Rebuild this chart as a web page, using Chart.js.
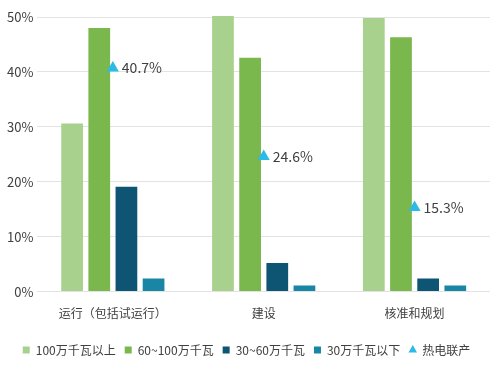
<!DOCTYPE html>
<html><head><meta charset="utf-8">
<script src="https://cdn.jsdelivr.net/npm/chart.js@4/dist/chart.umd.min.js"></script>
<style>html,body{margin:0;padding:0;background:#fff}#wrap{width:500px;height:380px}</style>
</head><body><div id="wrap"><canvas id="c"></canvas></div>
<script>
const categories = ['运行（包括试运行）', '建设', '核准和规划'];
const above100 = [30.6, 50.2, 49.8];
const from60to100 = [48.0, 42.6, 46.3];
const from30to60 = [19.1, 5.2, 2.4];
const below30 = [2.4, 1.1, 1.1];
const chp = [40.7, 24.6, 15.3];
const yTicks = [0, 10, 20, 30, 40, 50];

const FONT = '"Noto Sans CJK SC", "Noto Sans", sans-serif';

const labelPlugin = {
  id: 'chpLabels',
  afterDatasetsDraw(chart) {
    const idx = chart.data.datasets.findIndex(d => d.type === 'line');
    const meta = chart.getDatasetMeta(idx);
    const ctx = chart.ctx;
    ctx.save();
    ctx.font = '14px ' + FONT;
    ctx.fillStyle = '#404040';
    ctx.textAlign = 'left';
    ctx.textBaseline = 'middle';
    meta.data.forEach((pt, i) => {
      ctx.fillText(chp[i].toFixed(1) + '%', pt.x + 9, pt.y);
    });
    ctx.restore();
  }
};

new Chart(document.getElementById('c'), {
  data: {
    labels: categories,
    datasets: [
      { type: 'bar', label: '100万千瓦以上', data: above100, backgroundColor: '#a9d18e', clip: false, order: 1 },
      { type: 'bar', label: '60~100万千瓦', data: from60to100, backgroundColor: '#7ab74d', order: 1 },
      { type: 'bar', label: '30~60万千瓦', data: from30to60, backgroundColor: '#0d5573', order: 1 },
      { type: 'bar', label: '30万千瓦以下', data: below30, backgroundColor: '#1a86a5', order: 1 },
      { type: 'line', label: '热电联产', data: chp, showLine: false, pointStyle: 'triangle', pointRadius: 7, pointHoverRadius: 7, backgroundColor: '#2bbbe6', borderColor: '#2bbbe6', borderWidth: 0, order: 0 }
    ]
  },
  options: {
    responsive: true,
    maintainAspectRatio: false,
    animation: false,
    layout: { padding: { top: 17, right: 10, left: 3, bottom: 14 } },
    datasets: { bar: { categoryPercentage: 0.72, barPercentage: 0.8 } },
    plugins: {
      legend: {
        position: 'bottom',
        labels: {
          font: { family: FONT, size: 12 },
          color: '#404040',
          usePointStyle: true,
          boxWidth: 7, boxHeight: 7,
          padding: 9,
          generateLabels(chart) {
            return chart.data.datasets.map((d, i) => ({
              text: d.label,
              fillStyle: d.backgroundColor,
              strokeStyle: d.backgroundColor,
              lineWidth: 0,
              pointStyle: d.type === 'line' ? 'triangle' : 'rect',
              datasetIndex: i,
              fontColor: '#404040',
              hidden: false
            }));
          }
        }
      },
      tooltip: { enabled: false }
    },
    scales: {
      x: {
        afterFit(scale) { scale.height += 7; },
        grid: { display: false },
        border: { display: false },
        ticks: { font: { family: FONT, size: 12 }, color: '#404040', padding: 7 }
      },
      y: {
        min: 0, max: 50,
        afterBuildTicks(axis) { axis.ticks = yTicks.map(v => ({ value: v })); },
        grid: { color: '#e3e3e3', lineWidth: 1, drawTicks: false },
        border: { display: false },
        ticks: { font: { family: FONT, size: 13 }, color: '#404040', padding: 4, callback: v => v + '%' }
      }
    }
  },
  plugins: [labelPlugin]
});
</script></body></html>
